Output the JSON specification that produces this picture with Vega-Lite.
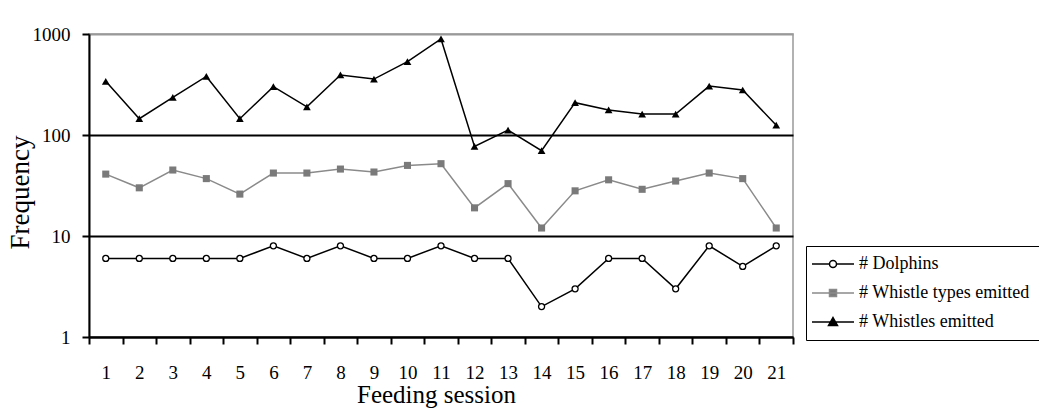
{
  "$schema": "https://vega.github.io/schema/vega-lite/v6.json",
  "width": 704,
  "height": 303,
  "autosize": {"type": "none"},
  "padding": {"left": 89, "top": 34, "right": 246, "bottom": 79},
  "background": "white",
  "config": {
    "font": "Liberation Serif",
    "view": {"stroke": "#999999", "strokeWidth": 1.5},
    "style": {"guide-label": {"font": "Liberation Serif"}, "guide-title": {"font": "Liberation Serif"}},
    "axis": {"labelFont": "Liberation Serif", "titleFont": "Liberation Serif", "labelColor": "black", "titleColor": "black", "titleFontWeight": "normal"},
    "legend": {"labelFont": "Liberation Serif"}
  },
  "data": {
    "values": [
      {"session": 1, "series": "# Dolphins", "value": 6},
      {"session": 2, "series": "# Dolphins", "value": 6},
      {"session": 3, "series": "# Dolphins", "value": 6},
      {"session": 4, "series": "# Dolphins", "value": 6},
      {"session": 5, "series": "# Dolphins", "value": 6},
      {"session": 6, "series": "# Dolphins", "value": 8},
      {"session": 7, "series": "# Dolphins", "value": 6},
      {"session": 8, "series": "# Dolphins", "value": 8},
      {"session": 9, "series": "# Dolphins", "value": 6},
      {"session": 10, "series": "# Dolphins", "value": 6},
      {"session": 11, "series": "# Dolphins", "value": 8},
      {"session": 12, "series": "# Dolphins", "value": 6},
      {"session": 13, "series": "# Dolphins", "value": 6},
      {"session": 14, "series": "# Dolphins", "value": 2},
      {"session": 15, "series": "# Dolphins", "value": 3},
      {"session": 16, "series": "# Dolphins", "value": 6},
      {"session": 17, "series": "# Dolphins", "value": 6},
      {"session": 18, "series": "# Dolphins", "value": 3},
      {"session": 19, "series": "# Dolphins", "value": 8},
      {"session": 20, "series": "# Dolphins", "value": 5},
      {"session": 21, "series": "# Dolphins", "value": 8},
      {"session": 1, "series": "# Whistle types emitted", "value": 41},
      {"session": 2, "series": "# Whistle types emitted", "value": 30},
      {"session": 3, "series": "# Whistle types emitted", "value": 45},
      {"session": 4, "series": "# Whistle types emitted", "value": 37},
      {"session": 5, "series": "# Whistle types emitted", "value": 26},
      {"session": 6, "series": "# Whistle types emitted", "value": 42},
      {"session": 7, "series": "# Whistle types emitted", "value": 42},
      {"session": 8, "series": "# Whistle types emitted", "value": 46},
      {"session": 9, "series": "# Whistle types emitted", "value": 43},
      {"session": 10, "series": "# Whistle types emitted", "value": 50},
      {"session": 11, "series": "# Whistle types emitted", "value": 52},
      {"session": 12, "series": "# Whistle types emitted", "value": 19},
      {"session": 13, "series": "# Whistle types emitted", "value": 33},
      {"session": 14, "series": "# Whistle types emitted", "value": 12},
      {"session": 15, "series": "# Whistle types emitted", "value": 28},
      {"session": 16, "series": "# Whistle types emitted", "value": 36},
      {"session": 17, "series": "# Whistle types emitted", "value": 29},
      {"session": 18, "series": "# Whistle types emitted", "value": 35},
      {"session": 19, "series": "# Whistle types emitted", "value": 42},
      {"session": 20, "series": "# Whistle types emitted", "value": 37},
      {"session": 21, "series": "# Whistle types emitted", "value": 12},
      {"session": 1, "series": "# Whistles emitted", "value": 340},
      {"session": 2, "series": "# Whistles emitted", "value": 145},
      {"session": 3, "series": "# Whistles emitted", "value": 236},
      {"session": 4, "series": "# Whistles emitted", "value": 380},
      {"session": 5, "series": "# Whistles emitted", "value": 145},
      {"session": 6, "series": "# Whistles emitted", "value": 301},
      {"session": 7, "series": "# Whistles emitted", "value": 190},
      {"session": 8, "series": "# Whistles emitted", "value": 393},
      {"session": 9, "series": "# Whistles emitted", "value": 358},
      {"session": 10, "series": "# Whistles emitted", "value": 532},
      {"session": 11, "series": "# Whistles emitted", "value": 893},
      {"session": 12, "series": "# Whistles emitted", "value": 77},
      {"session": 13, "series": "# Whistles emitted", "value": 112},
      {"session": 14, "series": "# Whistles emitted", "value": 70},
      {"session": 15, "series": "# Whistles emitted", "value": 209},
      {"session": 16, "series": "# Whistles emitted", "value": 177},
      {"session": 17, "series": "# Whistles emitted", "value": 161},
      {"session": 18, "series": "# Whistles emitted", "value": 161},
      {"session": 19, "series": "# Whistles emitted", "value": 305},
      {"session": 20, "series": "# Whistles emitted", "value": 279},
      {"session": 21, "series": "# Whistles emitted", "value": 125}
    ]
  },
  "encoding": {
    "x": {
      "field": "session",
      "type": "ordinal",
      "scale": {"type": "band", "paddingInner": 0, "paddingOuter": 0},
      "axis": {
        "title": "Feeding session",
        "titleFontSize": 25,
        "titlePadding": 0,
        "titleX": 347,
        "labelAngle": 0,
        "labelFontSize": 19,
        "labelPadding": 19,
        "tickBand": "extent",
        "tickExtra": true,
        "tickSize": 7,
        "tickColor": "black",
        "tickWidth": 2,
        "domainColor": "black",
        "domainWidth": 2,
        "grid": false
      }
    },
    "y": {
      "field": "value",
      "type": "quantitative",
      "scale": {"type": "log", "domain": [1, 1000], "nice": false},
      "axis": {
        "title": "Frequency",
        "titleFontSize": 27,
        "titlePadding": -2,
        "titleY": 158,
        "values": [1, 10, 100, 1000],
        "format": "d",
        "labelFontSize": 19,
        "labelPadding": 12,
        "tickSize": 7,
        "tickColor": "black",
        "tickWidth": 2,
        "domainColor": "black",
        "domainWidth": 2,
        "grid": true,
        "gridColor": {"condition": {"test": "datum.value >= 1000", "value": "#999999"}, "value": "black"},
        "gridWidth": 2,
        "gridOpacity": 1
      }
    }
  },
  "layer": [
    {
      "mark": {"type": "line", "strokeWidth": 1.5},
      "encoding": {
        "color": {
          "field": "series",
          "type": "nominal",
          "scale": {"domain": ["# Dolphins", "# Whistle types emitted", "# Whistles emitted"], "range": ["black", "#8a8a8a", "black"]},
          "legend": {
            "title": null,
            "orient": "none",
            "legendX": 717,
            "legendY": 212,
            "strokeColor": "black",
            "fillColor": "white",
            "padding": 9,
            "labelFont": "Liberation Serif",
            "labelFontSize": 18,
            "labelColor": "black",
            "labelLimit": 400,
            "symbolSize": 100,
            "symbolOffset": 9,
            "labelOffset": 17,
            "rowPadding": 11,
            "symbolStrokeWidth": 1.5,
            "encode": {
              "labels": {
                "update": {
                  "font": {"value": "Liberation Serif"}
                }
              },
              "symbols": {
                "update": {
                  "shape": {"signal": "datum.value === '# Dolphins' ? 'M-4.2,0H-0.7M0.7,0H4.2M-0.7,0A0.7,0.7,0,1,0,0.7,0A0.7,0.7,0,1,0,-0.7,0Z' : datum.value === '# Whistle types emitted' ? 'M-4.2,0H4.2M-0.7,-0.7H0.7V0.7H-0.7Z' : 'M-4.2,0H4.2M0,-0.9L0.9,0.7L-0.9,0.7Z'"},
                  "fill": {"signal": "datum.value === '# Dolphins' ? 'white' : datum.value === '# Whistle types emitted' ? '#7a7a7a' : 'black'"},
                  "stroke": {"signal": "datum.value === '# Whistle types emitted' ? '#8a8a8a' : 'black'"},
                  "strokeWidth": {"value": 1.5},
                  "opacity": {"value": 1},
                  "fillOpacity": {"value": 1}
                }
              }
            }
          }
        }
      }
    },
    {
      "transform": [{"filter": "datum.series === '# Dolphins'"}],
      "mark": {"type": "point", "shape": "circle", "filled": false, "fill": "white", "stroke": "black", "opacity": 1, "strokeWidth": 1.3, "size": 36}
    },
    {
      "transform": [{"filter": "datum.series === '# Whistle types emitted'"}],
      "mark": {"type": "point", "shape": "square", "filled": true, "fill": "#7a7a7a", "opacity": 1, "size": 50}
    },
    {
      "transform": [{"filter": "datum.series === '# Whistles emitted'"}],
      "mark": {"type": "point", "shape": "triangle-up", "filled": true, "fill": "black", "opacity": 1, "size": 60}
    }
  ]
}
